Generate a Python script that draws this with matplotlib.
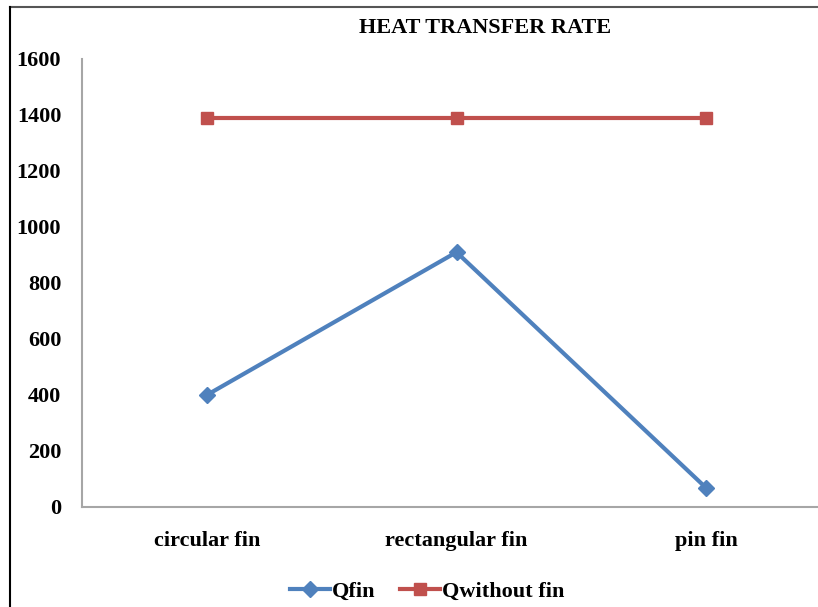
"""Heat transfer rate: fin vs no fin, line chart."""
import matplotlib
matplotlib.use("Agg")
import matplotlib.pyplot as plt
from matplotlib.lines import Line2D

categories = ["circular fin", "rectangular fin", "pin fin"]
q_fin = [400, 910, 68]
q_without_fin = [1390, 1390, 1390]
y_ticks = [0, 200, 400, 600, 800, 1000, 1200, 1400, 1600]

W, H = 818, 607
plt.rcParams["font.family"] = ["Liberation Serif", "DejaVu Serif"]
plt.rcParams["font.weight"] = "bold"

fig = plt.figure(figsize=(W / 100, H / 100), dpi=100)
# plot area in pixels: left spine x=82, bottom y=507, top (1600) y=59, right runs off the image
left, right, top, bottom = 82, 831, 59, 507
ax = fig.add_axes([left / W, 1 - bottom / H, (right - left) / W, (bottom - top) / H])

x = list(range(len(categories)))
blue, red = "#4F81BD", "#C0504D"
ax.plot(x, q_fin, color=blue, lw=3, marker="D", ms=8, label="Qfin")
ax.plot(x, q_without_fin, color=red, lw=3, marker="s", ms=9, label="Qwithout fin")

ax.set_xlim(-0.5, len(categories) - 0.5)
ax.set_ylim(0, 1600)
ax.set_yticks(y_ticks)
ax.set_xticks(x)
ax.set_xticklabels(categories)
ax.tick_params(axis="y", length=0, pad=15, labelsize=16)
ax.tick_params(axis="x", length=0, pad=17, labelsize=16)
for lab in ax.get_xticklabels() + ax.get_yticklabels():
    lab.set_fontweight("bold")

for s in ("top", "right"):
    ax.spines[s].set_visible(False)
for s in ("left", "bottom"):
    ax.spines[s].set_color("#A6A6A6")
    ax.spines[s].set_linewidth(1.5)

fig.text(485 / W, 1 - 28 / H, "HEAT TRANSFER RATE", ha="center", va="center",
         fontsize=16, fontweight="bold")

handles, labels = ax.get_legend_handles_labels()
fig.legend(handles, labels, loc="center", bbox_to_anchor=(427 / W, 1 - 592 / H),
           ncol=2, frameon=False, prop={"size": 16, "weight": "bold"},
           handlelength=1.8, handletextpad=0.1, columnspacing=1.1)

# outer border pieces visible in the crop
fig.add_artist(Line2D([10 / W, 1], [1 - 7 / H, 1 - 7 / H], transform=fig.transFigure,
                      color="#555555", lw=1.5))
fig.add_artist(Line2D([10 / W, 10 / W], [0, 1 - 7 / H], transform=fig.transFigure,
                      color="black", lw=1.5))

fig.savefig("out.png", dpi=100)
